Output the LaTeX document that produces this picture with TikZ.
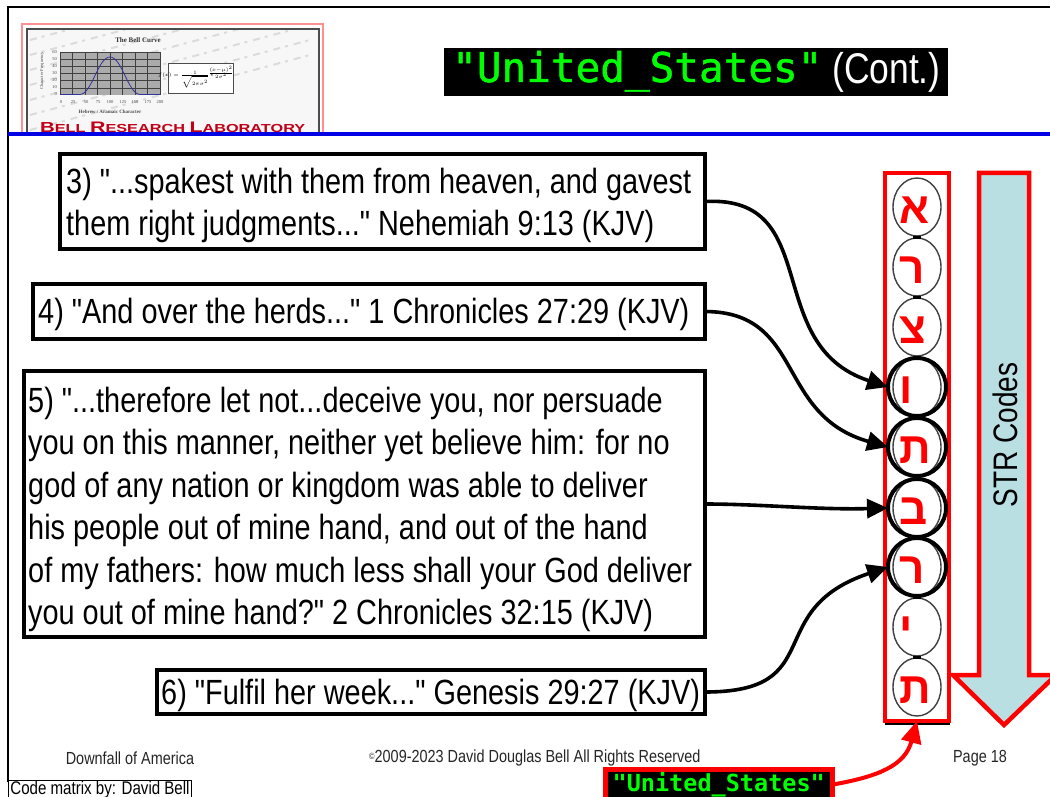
\documentclass[tikz,border=0pt]{standalone}
\usepackage{fontspec}
\usepackage{graphicx}
\setmainfont{Liberation Sans}
\newfontfamily\bodyfont[FakeStretch=0.825]{Liberation Sans}
\newfontfamily\hebfont[Script=Hebrew]{Liberation Sans}
\newfontfamily\termfont{DejaVu Sans Mono}
\newfontfamily\titlefont[FakeBold=1.2]{DejaVu Sans Mono}
\newfontfamily\logofont{Liberation Serif}
\TeXXeTstate=1
\usetikzlibrary{arrows.meta,shapes.geometric}
\definecolor{arrowfill}{HTML}{B9DFE3}
\definecolor{logored}{HTML}{C00018}
\definecolor{logopink}{HTML}{FF9090}
\tikzset{
  quote/.style={draw=black,line width=4.5pt,fill=white,inner sep=0pt,outer sep=0pt,anchor=north west},
  quotetext/.style={inner sep=0pt,align=left,font=\bodyfont\fontsize{35}{42.4}\selectfont},
  conn/.style={draw=black,line width=3.6pt,-{Triangle[length=21pt,width=19pt]}},
  thin letter/.style={draw=black!75,line width=1.4pt,ellipse,minimum width=48pt,minimum height=58pt,inner sep=0pt},
  picked/.style={draw=black,line width=4pt,circle,minimum size=58pt,inner sep=0pt,outer sep=0pt},
  hebletter/.style={text=red,anchor=base west,inner sep=0pt,font=\hebfont\bfseries\fontsize{44}{44}\selectfont},
  footer/.style={inner sep=0pt,text=black!85!white,font=\bodyfont\fontsize{17.5}{18}\selectfont},
  tinylabel/.style={inner sep=0pt,text=black!70,font=\logofont\fontsize{4.5}{5}\selectfont},
}
\begin{document}
\begin{tikzpicture}[x=1pt,y=-1pt]
\useasboundingbox (0,0) rectangle (1050,797);
\fill[white] (0,0) rectangle (1050,797);
% frame
\draw[black,line width=2pt] (1050,7) -- (8,7) -- (8,782);
% logo
\begin{scope}
\clip (20,20) rectangle (330,134);
\draw[logopink,line width=1.5pt] (22,24) rectangle (323,140);
\fill[black!3] (27,29) rectangle (319,140);
\begin{scope}
\clip (27,29) rectangle (319,140);
\foreach \yy in {40,55,...,130}{
  \draw[black!14,line width=2pt,dash pattern=on 7pt off 5pt on 3pt off 6pt] (30,\yy) -- ++(-15:290);
}
\end{scope}
\draw[black!70,line width=1.5pt] (27,29) rectangle (319,140);
\node[inner sep=0pt,text=black!80,font=\logofont\bfseries\fontsize{7}{8}\selectfont] (logotitle) at (138,40) {The Bell Curve};
\node[tinylabel,rotate=90] (logoy) at (42,71) {Character Frequency};
\fill[black!33] (60,52) rectangle (160,95);
\foreach \xx in {60,72.5,...,160.1}{\draw[black!75,line width=.8pt] (\xx,52) -- (\xx,95);}
\foreach \yy in {52,59.2,...,95.1}{\draw[black!75,line width=.8pt] (60,\yy) -- (160,\yy);}
\draw[blue!50!black!80,line width=.8pt] (60,94.5) -- (80,94.5) .. controls (92,94) and (98,57) .. (110,57) .. controls (122,57) and (128,94) .. (140,94.5) -- (160,94.5);
\foreach \xx/\tt in {61/0,73/25,86/50,98/75,110/100,123/125,135/150,148/175,160/200}{
  \node[tinylabel] at (\xx,102) {\tt};
}
\foreach \yy/\tt in {52/60,59/50,66/40,73/30,80/20,87/10,94/0}{
  \node[tinylabel,anchor=east] at (57,\yy) {\tt};
}
\node[tinylabel,font=\logofont\bfseries\fontsize{5}{6}\selectfont] (logox) at (110,112) {Hebrew / Aramaic Character};
\draw[black!70,fill=white,line width=.7pt] (168,63) rectangle (233,93);
\node[tinylabel,text=black] (logof) at (186,80) {$f(x)=\frac{1}{\sqrt{2\pi\sigma^2}}\,e$};
\node[tinylabel,text=black] (logoe) at (221,72) {$\frac{(x-\mu)^2}{2\sigma^2}$};
\node[inner sep=0pt,anchor=base west,text=logored] (logoname) at (40,132) {\resizebox{265pt}{10.5pt}{\bodyfont\bfseries B\fontsize{8}{8}\selectfont ELL \fontsize{10.5}{10}\selectfont R\fontsize{8}{8}\selectfont ESEARCH \fontsize{10.5}{10}\selectfont L\fontsize{8}{8}\selectfont ABORATORY}};
\end{scope}
\draw[blue!90!black,line width=4pt] (8,134.5) -- (1050,134.5);
% title
\node[fill=black,inner sep=0pt,minimum width=504pt,minimum height=48pt,anchor=north west] (titlebar) at (444,48) {};
\node[anchor=base west,inner sep=0pt,text=green,font=\titlefont\fontsize{41}{41}\selectfont] (titlecode) at (452,82) {"United\_States"};
\node[anchor=base west,inner sep=0pt,text=white,font=\bodyfont\fontsize{43}{43}\selectfont] (titlecont) at (832,84) {(Cont.)};
% quote boxes
\node[quote,minimum width=645pt,minimum height=95pt] (b3) at (60,154) {};
\node[quotetext,anchor=north west] (t3) at (66,168) {3) "...spakest with them from heaven, and gavest\\them right judgments..." Nehemiah 9:13 (KJV)};
\node[quote,minimum width=672pt,minimum height=55pt] (b4) at (33,284) {};
\node[quotetext,anchor=west] (t4) at (38,314) {4) "And over the herds..." 1 Chronicles 27:29 (KJV)};
\node[quote,minimum width=681pt,minimum height=266pt] (b5) at (24,371) {};
\node[quotetext,anchor=north west] (t5) at (28,387) {5) "...therefore let not...deceive you, nor persuade\\you on this manner, neither yet believe him: for no\\god of any nation or kingdom was able to deliver\\his people out of mine hand, and out of the hand\\of my fathers: how much less shall your God deliver\\you out of mine hand?" 2 Chronicles 32:15 (KJV)};
\node[quote,minimum width=548pt,minimum height=44pt] (b6) at (157,670) {};
\node[quotetext,anchor=west] (t6) at (161,695) {6) "Fulfil her week..." Genesis 29:27 (KJV)};
% letter column
\draw[black,line width=2pt] (885,723.5) -- (950,723.5);
\node[draw=red,line width=4.5pt,fill=white,minimum width=64pt,minimum height=548pt,inner sep=0pt,outer sep=0pt] (column) at (917,447) {};
\foreach \i/\cy/\ch in {1/207/א,2/267/ר,3/327/צ,4/387/ו,5/447/ת,6/508/ב,7/567/ר,8/627/י,9/687/ת}{
  \node[thin letter] (e\i) at (917,\cy) {};
  \node[hebletter] (l\i) at (899,\cy+16) {\beginR \ch\endR};
}
\foreach \cy in {237,297,357,417,477,537,597,657}{
  \fill[black] (913,\cy-1.5) rectangle (921,\cy+1.5);
}
\foreach \i/\cy in {4/387,5/447,6/508,7/567}{
  \node[picked] (c\i) at (917,\cy) {};
}
% STR arrow
\draw[red,line width=4.5pt,fill=arrowfill,line join=miter] (979,173) -- (1029,173) -- (1029,675) -- (1056,675) -- (1004,725) -- (953,675) -- (979,675) -- cycle;
\node[rotate=90,inner sep=0pt,font=\bodyfont\fontsize{34}{34}\selectfont] (strlabel) at (1005,435) {STR Codes};
% connectors
\draw[conn] (b3.east) .. controls (825,195) and (760,345) .. (c4.west);
\draw[conn] (b4.east) .. controls (805,312) and (775,415) .. (c5.west);
\draw[conn] (b5.east) .. controls (760,504) and (820,510) .. (c6.west);
\draw[conn] (b6.east) .. controls (830,692) and (760,610) .. (c7.west);
% footer
\node[footer] (f1) at (130,758) {Downfall of America};
\node[footer,anchor=west] (f2) at (369,758) {\raisebox{3pt}{\fontsize{9}{9}\selectfont ©}2009-2023 David Douglas Bell All Rights Reserved};
\node[footer] (f3) at (980,758) {Page 18};
\node[draw=black,line width=1pt,fill=white,inner sep=0pt,anchor=north west,minimum width=183pt,minimum height=18pt,font=\bodyfont\fontsize{18.3}{18}\selectfont] (credit) at (8,780) {Code matrix by: David Bell};
% red label
\node[fill=black,draw=red,line width=4.5pt,inner sep=0pt,minimum width=227pt,minimum height=30pt,anchor=north west,text=green,font=\termfont\bfseries\fontsize{23.5}{24}\selectfont] (us) at (603,767) {\raisebox{3pt}{"United\_States"}};
\draw[red,line width=4pt,-{Triangle[length=22pt,width=20pt]}] (us.east) .. controls (880,776) and (905,765) .. (column.south);
\end{tikzpicture}
\end{document}
